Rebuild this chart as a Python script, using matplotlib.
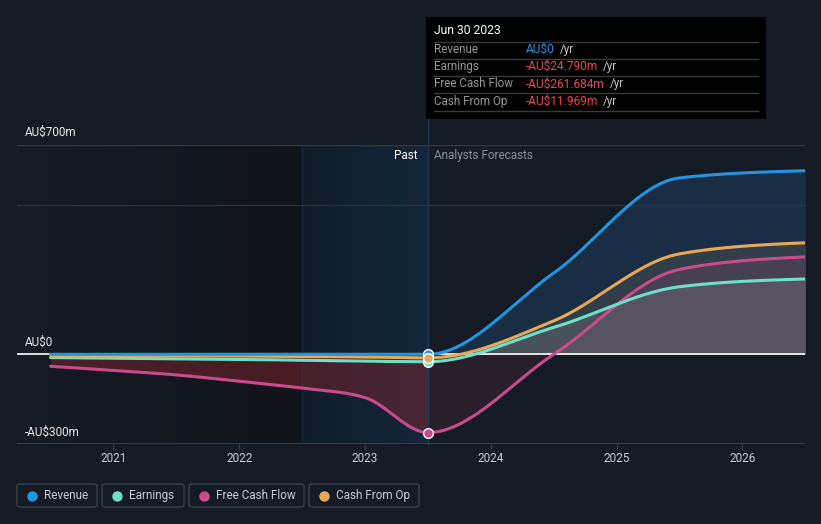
import numpy as np
import matplotlib
matplotlib.use("Agg")
import matplotlib.pyplot as plt
from matplotlib.patches import FancyBboxPatch, Rectangle
from matplotlib.lines import Line2D
from matplotlib.colors import LinearSegmentedColormap

# ---------------- data ----------------
years = [2020.5, 2021.0, 2021.5, 2022.0, 2022.5, 2023.0, 2023.5, 2024.5, 2025.5, 2026.5]
revenue = [0, 0, 0, 0, 0, 0, 0, 272, 590, 614]
earnings = [-11, -13, -15, -17, -20, -23, -24.79, 90, 226, 252]
free_cash_flow = [-40, -54, -69, -90, -113, -145, -261.684, 0, 284, 326]
cash_from_op = [-4, -5, -5, -6, -7, -9, -11.969, 112, 336, 373]

series_names = ["Revenue", "Earnings", "Free Cash Flow", "Cash From Op"]
series_colors = ["#2394df", "#6ee0c9", "#c94b8c", "#e8a857"]

x_ticks = [2021, 2022, 2023, 2024, 2025, 2026]
y_labels = ["AU$700m", "AU$0", "-AU$300m"]
now_year = 2023.5
past_start = 2022.5

tooltip_title = "Jun 30 2023"
tooltip_rows = [("Revenue", "AU$0", "#2394df"),
                ("Earnings", "-AU$24.790m", "#f0444b"),
                ("Free Cash Flow", "-AU$261.684m", "#f0444b"),
                ("Cash From Op", "-AU$11.969m", "#f0444b")]


# ---------------- monotone-x curve (d3 style) ----------------
def monotone_x(x, y, n_per=80):
    x = np.asarray(x, float); y = np.asarray(y, float)
    n = len(x)
    h = np.diff(x); s = np.diff(y) / h
    m = np.zeros(n)
    for k in range(1, n - 1):
        p = (s[k - 1] * h[k] + s[k] * h[k - 1]) / (h[k - 1] + h[k])
        m[k] = (np.sign(s[k - 1]) + np.sign(s[k])) * min(abs(s[k - 1]), abs(s[k]), 0.5 * abs(p))
    m[0] = (3 * s[0] - m[1]) / 2
    m[-1] = (3 * s[-1] - m[-2]) / 2
    xs, ys = [], []
    for k in range(n - 1):
        t = np.linspace(0, 1, n_per, endpoint=(k == n - 2))
        h00 = 2 * t**3 - 3 * t**2 + 1; h10 = t**3 - 2 * t**2 + t
        h01 = -2 * t**3 + 3 * t**2; h11 = t**3 - t**2
        xs.append(x[k] + t * h[k])
        ys.append(h00 * y[k] + h10 * h[k] * m[k] + h01 * y[k + 1] + h11 * h[k] * m[k + 1])
    return np.concatenate(xs), np.concatenate(ys)


W, H = 821, 524
BG = "#151b25"
plt.rcParams['font.family'] = ['Roboto', 'DejaVu Sans']
fig = plt.figure(figsize=(W / 100, H / 100), dpi=100, facecolor=BG)


def fx(px): return px / W
def fy(py): return 1 - py / H


ax = fig.add_axes([fx(17), 80 / H, 788 / W, 299 / H])
ax.set_facecolor(BG)
x0, x1 = 2020.233, 2026.497
y0, y1 = -300, 700
ax.set_xlim(x0, x1); ax.set_ylim(y0, y1)
for sp in ax.spines.values():
    sp.set_visible(False)

# background gradients
g = np.linspace(0, 1, 256).reshape(1, -1)
cm_left = LinearSegmentedColormap.from_list("l", ["#161b24", "#11141a"])
ax.imshow(g, extent=[x0, past_start, y0, y1], aspect="auto", cmap=cm_left, zorder=0)
cm_past = LinearSegmentedColormap.from_list("p", ["#0f1c28", "#13283b"])
ax.imshow(g, extent=[past_start, now_year, y0, y1], aspect="auto", cmap=cm_past, zorder=0)
ax.axvline(past_start, color="#1a2b3a", lw=0.8, zorder=0.5)

# grid lines
ax.axhline(700, color="#323842", lw=1, zorder=1)
ax.axhline(500, color="#2a3039", lw=1, zorder=1)
ax.axhline(-300, color="#3a3f47", lw=1.2, zorder=1)

curves = [monotone_x(years, s) for s in [revenue, earnings, free_cash_flow, cash_from_op]]
xs = curves[0][0]
rev_c, ear_c, fcf_c, cfo_c = [c[1] for c in curves]

past = xs <= now_year + 1e-9
fut = xs >= now_year - 1e-9
# fills
ax.fill_between(xs[past], 0, np.minimum(fcf_c[past], 0), color="#8a2630", alpha=0.45, lw=0, zorder=2)
ax.fill_between(xs[past], 0, np.minimum(ear_c[past], 0), color="#8a2630", alpha=0.2, lw=0, zorder=2)
ax.fill_between(xs[fut], 0, np.minimum(fcf_c[fut], 0), color="#5a2a3a", alpha=0.3, lw=0, zorder=2)
ax.fill_between(xs[fut], 0, np.maximum(rev_c[fut], 0), color="#1d3d60", alpha=0.55, lw=0, zorder=2)
ax.fill_between(xs[fut], 0, np.maximum(cfo_c[fut], 0), color="#6b6455", alpha=0.3, lw=0, zorder=2)
ax.fill_between(xs[fut], 0, np.maximum(fcf_c[fut], 0), color="#7a4a66", alpha=0.3, lw=0, zorder=2)
ax.fill_between(xs[fut], 0, np.maximum(ear_c[fut], 0), color="#77777f", alpha=0.35, lw=0, zorder=2)

# zero line
ax.axhline(0, color="#ffffff", lw=1.2, zorder=3)

# lines
for i in [2, 1, 3, 0]:
    ax.plot(xs, curves[i][1], color=series_colors[i], lw=2.2, zorder=4, solid_capstyle="round")

# now line
ax.plot([now_year, now_year], [y0, y1 + 300], color="#1e3c55", lw=1, zorder=3.5, clip_on=False)

# markers at now
ni = years.index(now_year)
for i, s in enumerate([revenue, earnings, free_cash_flow, cash_from_op]):
    ax.plot([now_year], [s[ni]], "o", ms=7, mfc=series_colors[i], mec="white", mew=1.0, zorder=6)

# x ticks
ax.set_xticks(x_ticks)
ax.set_xticklabels([str(t) for t in x_ticks], color="#c9ccd1", fontsize=8.5)
ax.tick_params(axis="x", length=4, color="#3a3f47", pad=2)
ax.set_yticks([])

# y labels
for lab, py in zip(y_labels, [132, 342, 432]):
    fig.text(fx(25), fy(py), lab, color="#e8e8e8", fontsize=8.5, va="center", ha="left")

fig.text(fx(417), fy(156), "Past", color="#ffffff", fontsize=8.5, va="center", ha="right")
fig.text(fx(434), fy(156), "Analysts Forecasts", color="#8b9098", fontsize=8.5, va="center", ha="left")

# tooltip
fig.patches.append(Rectangle((fx(426), fy(119)), (766 - 426) / W, (119 - 17) / H,
                             transform=fig.transFigure, facecolor="#000000", edgecolor="none", zorder=10))
fig.text(fx(434), fy(31), tooltip_title, color="#ffffff", fontsize=8.7, va="center", ha="left", zorder=11)
for py in [41.5, 58.5, 75.5, 92.5, 110.5]:
    fig.lines.append(Line2D([fx(434), fx(758)], [fy(py), fy(py)], transform=fig.transFigure,
                            color="#3a3a3a", lw=1, zorder=11))
value_texts = []
for (lab, val, col), py in zip(tooltip_rows, [49.5, 66.5, 84, 101]):
    fig.text(fx(434), fy(py), lab, color="#9a9a9a", fontsize=8.4, va="center", ha="left", zorder=11)
    t = fig.text(fx(526), fy(py), val, color=col, fontsize=8.6, va="center", ha="left", zorder=11)
    value_texts.append((t, py))

fig.canvas.draw()
r = fig.canvas.get_renderer()
for t, py in value_texts:
    bb = t.get_window_extent(renderer=r)
    fig.text((bb.x1 + 5) / W, fy(py), "/yr", color="#c8c8c8", fontsize=8.4, va="center", ha="left", zorder=11)

# legend boxes
legend_boxes = [(17, 97), (102, 184), (189, 304), (309, 419)]
for (lx0, lx1), name, col in zip(legend_boxes, series_names, series_colors):
    fig.patches.append(FancyBboxPatch((fx(lx0), fy(507)), (lx1 - lx0) / W, 23 / H,
                                      boxstyle="round,pad=0,rounding_size=0.004",
                                      transform=fig.transFigure, facecolor="none",
                                      edgecolor="#3b4049", lw=1))
    fig.lines.append(Line2D([fx(lx0 + 15)], [fy(495.5)], marker="o", ms=6.5, mfc=col, mec=col,
                            transform=fig.transFigure))
    fig.text(fx(lx0 + 27), fy(495.5), name, color="#c9ccd1", fontsize=8.5, va="center", ha="left")

fig.savefig("out.png", dpi=100, facecolor=BG)
